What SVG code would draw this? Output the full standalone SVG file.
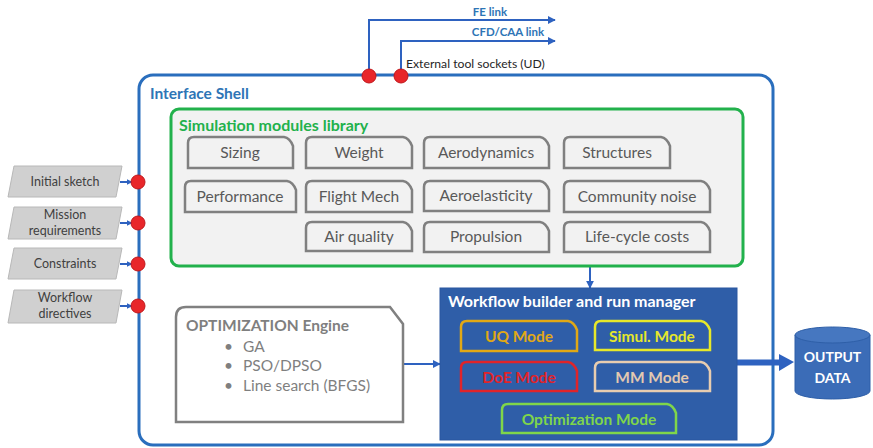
<svg xmlns="http://www.w3.org/2000/svg" width="873" height="448" viewBox="0 0 873 448">
<defs>
<style>
text{font-family:Lato,"Open Sans","Liberation Sans",sans-serif}
.mod{fill:#f2f2f2;stroke:#808080;stroke-width:2.5}
.modt{fill:#595959;font-size:15.5px;text-anchor:middle}
.dot{fill:#e8262a;stroke:#c0181c;stroke-width:1}
.para{fill:#d0d0d0;stroke:#b8b8b8;stroke-width:1}
.parat{fill:#404040;font-size:12.5px;text-anchor:middle}
.conn{fill:none;stroke:#2e62c0;stroke-width:2}
.mode{fill:#2f5ea8;stroke-width:2.5}
.modet{font-size:15.5px;font-weight:bold;text-anchor:middle}
.opt{fill:#7f7f7f;font-size:15.5px}
</style>
<marker id="ah" viewBox="0 0 10 10" refX="9" refY="5" markerWidth="4" markerHeight="4" orient="auto">
<path d="M0,0 L10,5 L0,10 z" fill="#2e62c0"/>
</marker>
<marker id="ahs" viewBox="0 0 10 10" refX="9" refY="5" markerWidth="3" markerHeight="3" orient="auto">
<path d="M0,0 L10,5 L0,10 z" fill="#2e62c0"/>
</marker>
</defs>

<g id="shell">
<rect x="139" y="75" width="634" height="370" rx="14" fill="#ffffff" stroke="#2a6ebd" stroke-width="3"/>
<text x="150" y="99" fill="#2e75b6" font-size="15.5px" font-weight="bold">Interface Shell</text>
</g>

<g id="connectors">
<polyline class="conn" points="369,76 369,20 555,20" marker-end="url(#ah)"/>
<polyline class="conn" points="401,76 401,41 555,41" marker-end="url(#ah)"/>
<line class="conn" x1="120" y1="182" x2="132" y2="182" marker-end="url(#ahs)"/>
<line class="conn" x1="120" y1="223" x2="132" y2="223" marker-end="url(#ahs)"/>
<line class="conn" x1="120" y1="264" x2="132" y2="264" marker-end="url(#ahs)"/>
<line class="conn" x1="120" y1="306" x2="132" y2="306" marker-end="url(#ahs)"/>
<line class="conn" x1="590" y1="266" x2="590" y2="288" stroke-width="2.5" marker-end="url(#ah)"/>
<line class="conn" x1="403" y1="364" x2="440" y2="364" stroke-width="2.5" marker-end="url(#ah)"/>
<path d="M737,359.5 L779,359.5 L779,354 L794,362 L779,371 L779,365.5 L737,365.5 Z" fill="#2e62c0"/>
</g>

<g id="ext-labels">
<text x="490" y="16" fill="#2e75b6" font-size="11.5px" font-weight="bold" text-anchor="middle">FE link</text>
<text x="508" y="36" fill="#2e75b6" font-size="11.5px" font-weight="bold" text-anchor="middle">CFD/CAA link</text>
<text x="406" y="68" fill="#262626" font-size="12.2px">External tool sockets (UD)</text>
</g>

<g id="sockets">
<circle class="dot" cx="369" cy="76" r="7"/>
<circle class="dot" cx="401" cy="76" r="7"/>
<circle class="dot" cx="138" cy="182" r="7"/>
<circle class="dot" cx="138" cy="223" r="7"/>
<circle class="dot" cx="138" cy="264" r="7"/>
<circle class="dot" cx="138" cy="306" r="7"/>
</g>

<g id="input-initial-sketch">
<polygon class="para" points="14,166 122,166 116,197 8,197"/>
<text class="parat" x="65" y="186">Initial sketch</text>
</g>
<g id="input-mission">
<polygon class="para" points="14,207 122,207 116,239 8,239"/>
<text class="parat" x="65" y="219">Mission</text>
<text class="parat" x="65" y="235">requirements</text>
</g>
<g id="input-constraints">
<polygon class="para" points="14,248 122,248 116,279 8,279"/>
<text class="parat" x="65" y="268">Constraints</text>
</g>
<g id="input-workflow">
<polygon class="para" points="14,290 122,290 116,323 8,323"/>
<text class="parat" x="65" y="302">Workflow</text>
<text class="parat" x="65" y="318">directives</text>
</g>

<g id="sim-library">
<rect x="171" y="109" width="572" height="157" rx="8" fill="#f2f2f2" stroke="#22b14c" stroke-width="3"/>
<text x="179" y="131" fill="#22b14c" font-size="16px" font-weight="bold">Simulation modules library</text>
</g>

<g id="mod-sizing"><path class="mod" d="M188,168 L188,143 Q188,137 194,137 L284,137 Q290,138 293,146 L293,168 Z"/><text class="modt" x="240" y="158">Sizing</text></g>
<g id="mod-weight"><path class="mod" d="M306,168 L306,143 Q306,137 312,137 L403,137 Q409,138 412,146 L412,168 Z"/><text class="modt" x="359" y="158">Weight</text></g>
<g id="mod-aero"><path class="mod" d="M424,168 L424,143 Q424,137 430,137 L540,137 Q546,138 549,146 L549,168 Z"/><text class="modt" x="486" y="158">Aerodynamics</text></g>
<g id="mod-struct"><path class="mod" d="M564,168 L564,143 Q564,137 570,137 L661,137 Q667,138 670,146 L670,168 Z"/><text class="modt" x="617" y="158">Structures</text></g>
<g id="mod-perf"><path class="mod" d="M185,212 L185,187 Q185,181 191,181 L287,181 Q293,182 296,190 L296,212 Z"/><text class="modt" x="240" y="202">Performance</text></g>
<g id="mod-flight"><path class="mod" d="M306,212 L306,187 Q306,181 312,181 L403,181 Q409,182 412,190 L412,212 Z"/><text class="modt" x="359" y="202">Flight Mech</text></g>
<g id="mod-aeroel"><path class="mod" d="M424,211 L424,187 Q424,181 430,181 L540,181 Q546,182 549,190 L549,211 Z"/><text class="modt" x="486" y="201">Aeroelasticity</text></g>
<g id="mod-noise"><path class="mod" d="M564,212 L564,187 Q564,181 570,181 L701,181 Q707,182 710,190 L710,212 Z"/><text class="modt" x="637" y="202">Community noise</text></g>
<g id="mod-air"><path class="mod" d="M306,251 L306,228 Q306,222 312,222 L403,222 Q409,223 412,231 L412,251 Z"/><text class="modt" x="359" y="242">Air quality</text></g>
<g id="mod-prop"><path class="mod" d="M424,252 L424,228 Q424,222 430,222 L540,222 Q546,223 549,231 L549,252 Z"/><text class="modt" x="486" y="242">Propulsion</text></g>
<g id="mod-lcc"><path class="mod" d="M564,252 L564,228 Q564,222 570,222 L701,222 Q707,223 710,231 L710,252 Z"/><text class="modt" x="637" y="242">Life-cycle costs</text></g>

<g id="opt-engine">
<path d="M176,422 L176,317 Q176,307 186,307 L390,307 L403,324 L403,422 Z" fill="#ffffff" stroke="#808080" stroke-width="2.5"/>
<text class="opt" x="186" y="331" font-weight="bold">OPTIMIZATION Engine</text>
<text class="opt" x="224" y="352">•</text><text class="opt" x="243" y="352">GA</text>
<text class="opt" x="224" y="371">•</text><text class="opt" x="243" y="371">PSO/DPSO</text>
<text class="opt" x="224" y="391">•</text><text class="opt" x="243" y="391">Line search (BFGS)</text>
</g>

<g id="workflow">
<rect x="440" y="288" width="297" height="152" fill="#2f5ea8" stroke="#2a56a0" stroke-width="1"/>
<text x="448" y="307" fill="#ffffff" font-size="16px" font-weight="bold">Workflow builder and run manager</text>
</g>
<g id="mode-uq"><path class="mode" stroke="#e0a816" d="M461,351 L461,327 Q461,321 467,321 L568,321 Q574,322 577,330 L577,351 Z"/><text class="modet" fill="#e0a816" x="519" y="342">UQ Mode</text></g>
<g id="mode-simul"><path class="mode" stroke="#e6e82a" d="M595,350 L595,327 Q595,321 601,321 L701,321 Q707,322 710,330 L710,350 Z"/><text class="modet" fill="#e6e82a" x="652" y="342">Simul. Mode</text></g>
<g id="mode-doe"><path class="mode" stroke="#e0242a" d="M461,391 L461,368 Q461,362 467,362 L568,362 Q574,363 577,371 L577,391 Z"/><text class="modet" fill="#e0242a" x="519" y="383">DoE Mode</text></g>
<g id="mode-mm"><path class="mode" stroke="#e8cdb0" d="M595,391 L595,368 Q595,362 601,362 L701,362 Q707,363 710,371 L710,391 Z"/><text class="modet" fill="#e3c9b0" x="652" y="383">MM Mode</text></g>
<g id="mode-opt"><path class="mode" stroke="#7fd64a" d="M502,433 L502,410 Q502,404 508,404 L667,404 Q673,405 676,413 L676,433 Z"/><text class="modet" fill="#7fd64a" x="589" y="425">Optimization  Mode</text></g>

<g id="output-data">
<path d="M795,335 L795,391 A37.5,8 0 0 0 870,391 L870,335 Z" fill="#3b6cb7" stroke="#2e5fa8" stroke-width="1"/>
<ellipse cx="832.5" cy="335" rx="37.5" ry="8" fill="#4677c0" stroke="#2e5fa8" stroke-width="1"/>
<text x="832.5" y="362" fill="#ffffff" font-size="14px" font-weight="bold" text-anchor="middle">OUTPUT</text>
<text x="832.5" y="383" fill="#ffffff" font-size="14px" font-weight="bold" text-anchor="middle">DATA</text>
</g>
</svg>
